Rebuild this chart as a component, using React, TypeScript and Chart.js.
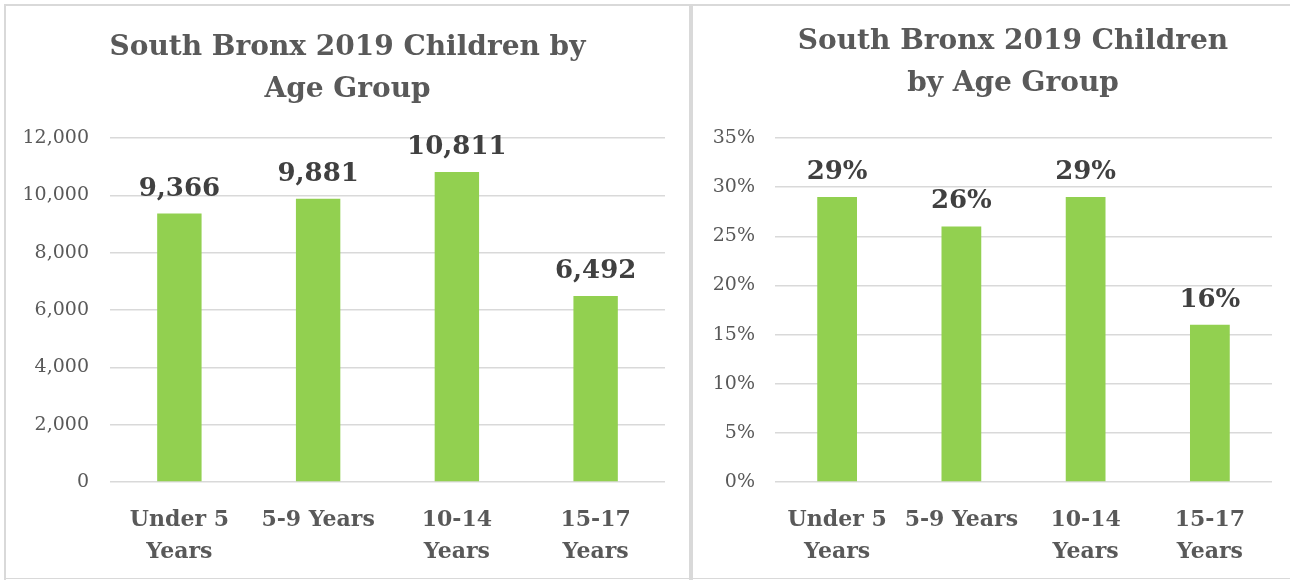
import React, { useEffect, useRef } from "react";
import { Chart, registerables } from "chart.js";

Chart.register(...registerables);

const categories: (string | string[])[] = [["Under 5", "Years"], "5-9 Years", ["10-14", "Years"], ["15-17", "Years"]];
const countValues = [9366, 9881, 10811, 6492];
const percentValues = [29, 26, 29, 16];
const titleLeft = ["South Bronx 2019 Children by", "Age Group"];
const titleRight = ["South Bronx 2019 Children", "by Age Group"];

const GREEN = "#92D050";
const TEXT = "#595959";
const LABEL = "#404040";
const GRID = "#D9D9D9";
const FONT = "'DejaVu Serif', serif";

const labelPlugin = (fmt: (v: number) => string, title: string[], titleY: number) => ({
  id: "barLabels",
  afterDraw(chart: any) {
    const ctx = chart.ctx;
    ctx.save();
    ctx.font = `bold 28px ${FONT}`;
    ctx.fillStyle = TEXT;
    ctx.textAlign = "center";
    ctx.textBaseline = "middle";
    title.forEach((t, i) => ctx.fillText(t, chart.width / 2, titleY + i * 42));
    ctx.restore();
  },
  afterDatasetsDraw(chart: any) {
    const ctx = chart.ctx;
    const meta = chart.getDatasetMeta(0);
    const data = chart.data.datasets[0].data as number[];
    ctx.save();
    ctx.font = `bold 26px ${FONT}`;
    ctx.fillStyle = LABEL;
    ctx.textAlign = "center";
    ctx.textBaseline = "alphabetic";
    meta.data.forEach((bar: any, i: number) => {
      ctx.fillText(fmt(data[i]), bar.x, bar.y - 18);
    });
    ctx.restore();
  },
});

type Cfg = {
  values: number[];
  title: string[];
  titleY: number;
  yMax: number;
  yStep: number;
  yWidth: number;
  yPad: number;
  rightPad: number;
  tickFmt: (v: number) => string;
  labelFmt: (v: number) => string;
};

function BarChart({ cfg, style }: { cfg: Cfg; style: React.CSSProperties }) {
  const ref = useRef<HTMLCanvasElement | null>(null);
  useEffect(() => {
    if (!ref.current) return;
    const chart = new Chart(ref.current, {
      type: "bar",
      data: {
        labels: categories,
        datasets: [
          {
            data: cfg.values,
            backgroundColor: GREEN,
            categoryPercentage: 1,
            barPercentage: 0.32,
          },
        ],
      },
      options: {
        animation: false,
        responsive: false,
        maintainAspectRatio: false,
        layout: { padding: { left: 0, right: cfg.rightPad, top: 132, bottom: 0 } },
        plugins: {
          legend: { display: false },
          tooltip: { enabled: false },
          title: { display: false },
        },
        scales: {
          x: {
            grid: { display: false, drawTicks: false },
            border: { display: false },
            ticks: {
              color: TEXT,
              padding: 22,
              maxRotation: 0,
              autoSkip: false,
              font: { family: FONT, size: 22, weight: "bold", lineHeight: 1.45 },
            },
            afterFit: (s: any) => {
              s.height = 96;
            },
          },
          y: {
            min: 0,
            max: cfg.yMax,
            grid: { color: GRID, lineWidth: 1.5, drawTicks: false },
            border: { display: false },
            ticks: {
              stepSize: cfg.yStep,
              color: TEXT,
              padding: cfg.yPad,
              font: { family: FONT, size: 19 },
              callback: (v: any) => cfg.tickFmt(Number(v)),
            },
            afterFit: (s: any) => {
              s.width = cfg.yWidth;
            },
          },
        },
      },
      plugins: [labelPlugin(cfg.labelFmt, cfg.title, cfg.titleY)],
    });
    return () => chart.destroy();
  }, []);
  return <canvas ref={ref} width={style.width as number} height={style.height as number} style={style} />;
}

const leftCfg: Cfg = {
  values: countValues,
  title: titleLeft,
  titleY: 42,
  yMax: 12000,
  yStep: 2000,
  yWidth: 104,
  yPad: 21,
  rightPad: 24,
  tickFmt: (v) => v.toLocaleString("en-US"),
  labelFmt: (v) => v.toLocaleString("en-US"),
};

const rightCfg: Cfg = {
  values: percentValues,
  title: titleRight,
  titleY: 36,
  yMax: 35,
  yStep: 5,
  yWidth: 82,
  yPad: 20,
  rightPad: 61,
  tickFmt: (v) => `${v}%`,
  labelFmt: (v) => `${v}%`,
};

export default function App() {
  const line = (s: React.CSSProperties): React.CSSProperties => ({ position: "absolute", background: GRID, ...s });
  return (
    <div style={{ position: "absolute", left: 0, top: 0, width: 1290, height: 580, overflow: "hidden", background: "#fff" }}>
      <BarChart cfg={leftCfg} style={{ position: "absolute", left: 6, top: 6, width: 683, height: 572 }} />
      <BarChart cfg={rightCfg} style={{ position: "absolute", left: 693, top: 6, width: 640, height: 572 }} />
      <div style={line({ left: 4, top: 4, width: 1290, height: 2 })} />
      <div style={line({ left: 4, top: 4, width: 2, height: 576 })} />
      <div style={line({ left: 689, top: 4, width: 4, height: 576 })} />
      <div style={line({ left: 4, top: 578, width: 1290, height: 1 })} />
    </div>
  );
}
